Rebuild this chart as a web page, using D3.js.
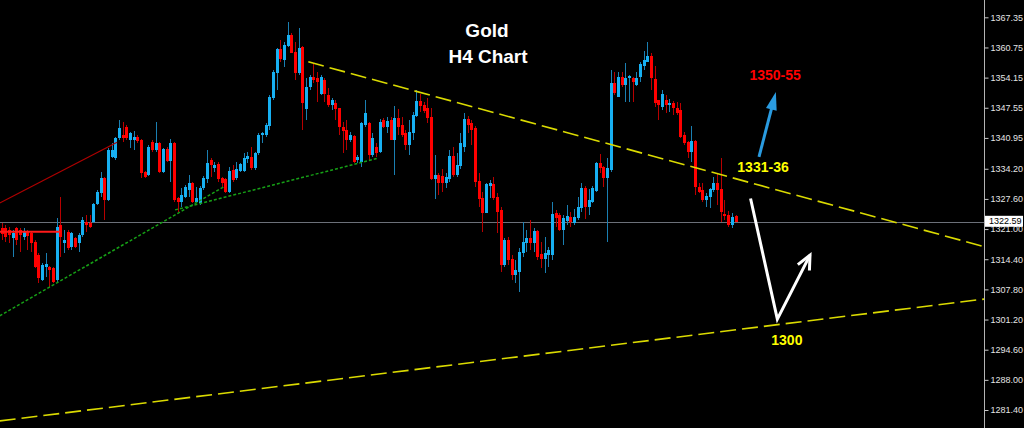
<!DOCTYPE html>
<html>
<head>
<meta charset="utf-8">
<script src="https://cdnjs.cloudflare.com/ajax/libs/d3/7.8.5/d3.min.js"></script>
<style>
  html, body { margin: 0; padding: 0; background: #000; overflow: hidden; }
  svg { display: block; }
</style>
</head>
<body>
<script>
// H4 candles, [open, high, low, close], oldest first
const bars = [
  [1321.2,1322.3,1318.6,1319.9],[1321.2,1321.9,1318.2,1319.3],[1320.8,1321.5,1317.9,1319.7],[1319.0,1320.8,1314.9,1320.1],
  [1321.2,1321.5,1317.5,1318.6],[1320.8,1321.2,1316.0,1319.7],[1319.3,1321.2,1318.6,1320.6],[1320.4,1320.8,1316.4,1319.5],
  [1320.1,1320.4,1316.0,1317.9],[1318.2,1318.6,1312.5,1312.7],[1315.3,1315.8,1309.2,1310.3],[1309.9,1313.6,1309.6,1313.1],
  [1312.7,1315.8,1310.5,1313.4],[1312.7,1312.9,1308.3,1312.1],[1312.5,1312.7,1309.2,1309.4],[1309.9,1323.4,1309.4,1321.5],
  [1321.9,1328.0,1314.9,1319.3],[1317.9,1320.8,1315.8,1318.6],[1320.4,1320.8,1316.4,1316.9],[1317.1,1320.4,1316.4,1320.1],
  [1319.0,1319.3,1316.9,1317.1],[1317.9,1320.1,1316.0,1319.7],[1319.7,1323.6,1319.3,1323.0],[1322.5,1324.1,1320.4,1321.9],
  [1322.3,1324.1,1321.2,1321.5],[1322.5,1326.7,1322.3,1326.5],[1326.5,1329.5,1326.3,1329.1],[1328.9,1333.5,1328.0,1332.2],
  [1332.2,1332.4,1323.0,1327.4],[1327.4,1338.7,1327.1,1338.3],[1336.8,1339.8,1336.5,1338.3],[1336.5,1341.1,1336.1,1340.9],
  [1340.9,1344.9,1340.5,1343.1],[1341.6,1344.4,1340.0,1340.9],[1343.3,1343.8,1340.5,1340.9],[1340.5,1342.2,1338.7,1342.0],
  [1340.5,1342.4,1338.3,1341.1],[1341.1,1341.6,1339.8,1340.3],[1340.5,1340.7,1332.2,1333.3],[1333.5,1333.7,1332.2,1332.4],
  [1332.8,1339.4,1332.6,1339.0],[1340.0,1340.5,1337.9,1338.3],[1338.3,1344.4,1337.9,1339.8],[1339.8,1340.0,1333.3,1333.5],
  [1333.5,1338.7,1333.3,1338.5],[1338.5,1339.0,1335.7,1335.9],[1335.9,1340.7,1331.3,1339.8],[1339.8,1340.0,1326.9,1327.4],
  [1327.8,1328.0,1324.7,1326.9],[1326.9,1330.0,1325.8,1328.5],[1328.0,1330.6,1327.8,1330.2],[1329.5,1332.8,1328.0,1331.1],
  [1331.1,1331.3,1326.7,1326.9],[1326.9,1330.2,1326.7,1327.8],[1326.7,1330.4,1326.3,1330.0],[1330.0,1332.6,1329.5,1332.2],
  [1331.9,1338.3,1331.1,1335.4],[1336.1,1336.5,1332.4,1335.0],[1334.4,1335.7,1333.5,1335.0],[1335.2,1335.7,1331.3,1331.9],
  [1332.2,1332.4,1330.2,1331.1],[1331.9,1332.2,1328.9,1329.1],[1329.1,1334.6,1328.9,1333.7],[1333.9,1335.0,1331.3,1331.7],
  [1332.2,1335.7,1331.7,1334.1],[1333.7,1335.4,1333.5,1335.2],[1333.7,1337.6,1333.5,1336.5],[1336.3,1337.9,1335.4,1337.0],
  [1336.8,1339.0,1333.9,1334.4],[1334.4,1337.9,1333.9,1337.6],[1337.6,1342.0,1337.2,1341.6],[1341.6,1342.2,1339.8,1342.0],
  [1341.6,1344.2,1341.1,1343.8],[1343.5,1350.3,1342.7,1349.9],[1349.7,1355.8,1349.2,1355.4],[1355.1,1360.6,1351.4,1360.4],
  [1360.4,1362.4,1357.5,1358.2],[1358.0,1361.9,1356.4,1361.3],[1361.0,1366.3,1360.8,1363.4],[1363.4,1363.9,1359.5,1359.5],
  [1359.7,1361.9,1353.6,1355.1],[1355.1,1365.0,1354.7,1360.6],[1360.8,1361.0,1342.7,1348.6],[1347.3,1354.0,1344.9,1352.1],
  [1352.1,1354.7,1351.4,1354.3],[1354.3,1357.3,1352.9,1353.6],[1354.0,1355.4,1348.8,1353.2],[1350.5,1354.7,1350.3,1354.3],
  [1353.6,1354.0,1348.8,1350.5],[1350.3,1351.9,1347.7,1348.1],[1348.1,1349.7,1347.0,1349.2],[1348.6,1349.2,1344.9,1347.3],
  [1347.5,1347.5,1341.6,1343.3],[1343.3,1344.4,1337.6,1342.4],[1342.7,1344.9,1338.3,1340.5],[1340.5,1342.2,1340.0,1341.6],
  [1341.4,1341.6,1335.4,1335.7],[1336.1,1337.2,1335.4,1336.8],[1335.7,1344.4,1334.6,1344.2],[1343.8,1349.2,1343.3,1346.4],
  [1344.2,1344.4,1336.1,1337.2],[1337.2,1342.0,1336.8,1340.9],[1338.9,1339.8,1336.8,1337.6],[1337.9,1345.1,1337.6,1344.4],
  [1344.9,1345.3,1343.1,1343.3],[1343.3,1345.5,1342.0,1344.7],[1344.9,1345.5,1340.5,1340.5],[1340.5,1347.9,1332.8,1345.3],
  [1345.3,1347.3,1341.6,1343.3],[1343.8,1345.5,1341.1,1341.6],[1342.0,1342.7,1338.3,1339.4],[1339.4,1344.9,1337.2,1342.2],
  [1342.0,1346.6,1340.5,1346.0],[1345.7,1351.4,1345.5,1349.0],[1349.0,1350.5,1346.6,1347.9],[1348.1,1348.8,1346.4,1346.8],
  [1347.5,1349.7,1344.2,1345.3],[1345.5,1347.5,1331.7,1331.9],[1331.9,1337.2,1327.6,1332.8],[1332.8,1333.3,1328.5,1331.1],
  [1332.6,1334.1,1329.1,1331.1],[1331.1,1333.3,1330.0,1332.4],[1331.9,1338.3,1331.3,1337.0],[1337.0,1339.0,1332.4,1332.8],
  [1332.8,1337.6,1332.4,1335.0],[1334.8,1342.0,1334.1,1339.8],[1339.0,1346.4,1337.9,1345.1],[1345.1,1345.7,1342.0,1343.8],
  [1344.2,1344.9,1339.4,1342.7],[1343.1,1343.5,1330.2,1331.3],[1331.5,1333.3,1325.8,1327.6],[1327.8,1329.1,1320.4,1324.5],
  [1324.5,1331.1,1324.5,1330.9],[1330.4,1331.7,1327.8,1331.1],[1330.9,1332.4,1327.4,1327.8],[1328.0,1328.9,1320.1,1324.7],
  [1325.2,1325.8,1311.6,1313.1],[1313.1,1319.0,1312.7,1318.6],[1318.6,1319.3,1313.1,1314.2],[1314.5,1315.3,1309.9,1311.0],
  [1311.0,1314.2,1309.2,1312.1],[1311.6,1316.9,1307.2,1316.0],[1315.8,1322.5,1314.9,1318.2],[1317.9,1320.8,1316.0,1319.0],
  [1319.0,1323.0,1316.4,1317.9],[1317.9,1321.2,1316.0,1320.6],[1320.6,1320.8,1314.2,1314.9],[1315.5,1318.2,1312.5,1314.5],
  [1314.5,1319.3,1311.4,1315.8],[1315.3,1317.1,1312.7,1316.4],[1315.3,1326.9,1314.2,1324.3],[1324.5,1325.2,1321.5,1323.4],
  [1324.1,1324.5,1320.6,1320.8],[1320.8,1324.1,1317.5,1323.4],[1322.8,1326.3,1321.9,1323.9],[1323.6,1324.7,1321.5,1322.5],
  [1322.3,1325.4,1321.9,1323.6],[1323.4,1328.0,1323.0,1325.8],[1325.6,1331.1,1324.7,1330.0],[1330.0,1330.4,1323.2,1325.8],
  [1325.8,1329.8,1324.1,1327.4],[1326.9,1330.4,1326.7,1330.0],[1329.3,1335.7,1329.1,1335.4],[1335.4,1337.4,1333.3,1334.4],
  [1334.6,1334.8,1330.2,1332.2],[1332.2,1336.5,1318.2,1334.4],[1333.9,1355.8,1333.5,1352.9],[1352.9,1355.4,1350.3,1350.8],
  [1349.9,1355.4,1349.9,1354.3],[1354.3,1355.4,1352.1,1352.5],[1352.5,1357.3,1348.8,1354.0],[1354.0,1354.7,1348.8,1354.5],
  [1354.0,1354.3,1348.8,1353.2],[1352.5,1355.4,1352.3,1354.0],[1354.3,1357.5,1353.2,1357.1],[1356.7,1360.0,1355.8,1358.0],
  [1357.5,1361.9,1357.5,1358.9],[1358.9,1359.5,1351.4,1354.0],[1353.8,1356.7,1347.7,1348.6],[1349.2,1349.2,1344.9,1348.1],
  [1347.7,1351.4,1347.0,1350.5],[1349.2,1350.3,1346.4,1348.1],[1348.1,1349.4,1346.6,1348.6],[1348.6,1349.0,1346.0,1347.5],
  [1347.5,1348.8,1346.0,1346.4],[1347.0,1348.6,1340.9,1341.1],[1341.6,1342.2,1339.4,1339.8],[1340.0,1340.3,1336.5,1337.9],
  [1337.9,1343.5,1335.7,1340.3],[1340.3,1340.5,1328.5,1330.2],[1330.2,1331.1,1328.9,1329.1],[1329.5,1331.1,1326.9,1327.4],
  [1327.4,1328.9,1325.8,1328.2],[1328.0,1330.0,1325.6,1329.8],[1329.5,1332.4,1329.1,1331.1],[1331.1,1333.0,1326.3,1329.5],
  [1329.8,1336.5,1322.5,1324.7],[1324.3,1327.4,1323.0,1323.9],[1324.1,1324.9,1321.5,1321.9],[1321.9,1324.5,1321.2,1323.6],
  [1323.9,1324.1,1322.5,1322.6]
];

// price scale labels on the right
const tickValues = [1367.35, 1360.75, 1354.15, 1347.55, 1340.95, 1334.20, 1327.60,
                    1321.00, 1314.40, 1307.80, 1301.20, 1294.60, 1288.00, 1281.40];
const lastPrice = 1322.59;

// trend lines as [bar index, price] end points
const yellowLines = [[[83.6, 1357.6], [268, 1317.1]], [[-0.5, 1279.0], [268, 1305.7]]];
const greenLines = [[[-0.5, 1302.0], [60.9, 1330.4]], [[47.3, 1325.2], [102.6, 1336.5]]];
const redLines = [[[-0.5, 1326.7], [31.5, 1340.0]]];
const redFlat = [[-0.5, 1320.4], [16, 1320.4]];

// hand drawn arrows and level notes
const upArrow = [[206.4, 1336.8], [211.0, 1351.0]];
const zigArrow = [[204.1, 1327.7], [211.4, 1301.3], [220.3, 1315.3]];
const levelText = ["1350-55", "1331-36", "1300"];
const levelAt = [[210.8, 1353.6], [207.5, 1333.5], [214, 1295.6]];
const levelColor = ["#ff0000", "#ffff00", "#ffff00"];

const width = 1024, height = 428;
const axisX = 984;

const svg = d3.select("body").append("svg").attr("width", width).attr("height", height)
  .style("background", "#000");

const x = d3.scaleLinear().domain([0, 268]).range([1.5, 1.5 + 268 * 3.67]);
const y = d3.scaleLinear().domain([1281.40, 1367.35]).range([410, 17.3]);

svg.append("defs").append("clipPath").attr("id", "plot")
  .append("rect").attr("x", 0).attr("y", 0).attr("width", axisX).attr("height", height);

const plot = svg.append("g").attr("clip-path", "url(#plot)");

//Current price line.
plot.append("line")
  .attr("x1", 0).attr("x2", axisX)
  .attr("y1", Math.round(y(lastPrice)) + 0.5).attr("y2", Math.round(y(lastPrice)) + 0.5)
  .attr("stroke", "#6c7079").attr("stroke-width", 1);

//Candles.
const candle = plot.append("g").attr("shape-rendering", "crispEdges")
  .selectAll("g").data(bars).enter().append("g");

candle.append("line")
  .attr("x1", (d, i) => Math.round(x(i)) + 0.5)
  .attr("x2", (d, i) => Math.round(x(i)) + 0.5)
  .attr("y1", d => y(d[1]))
  .attr("y2", d => y(d[2]))
  .attr("stroke", d => d[3] >= d[0] ? "#1a7fb2" : "#b80000");

candle.append("rect")
  .attr("x", (d, i) => Math.round(x(i)) - 1)
  .attr("width", 3)
  .attr("y", d => y(Math.max(d[0], d[3])))
  .attr("height", d => Math.max(1, Math.abs(y(d[0]) - y(d[3]))))
  .attr("fill", d => d[3] >= d[0] ? "#17b0f2" : "#ff0000");

//Trend lines.
const lineGen = d3.line().x(p => x(p[0])).y(p => y(p[1]));

plot.selectAll(".red").data(redLines).enter().append("path")
  .attr("d", lineGen).attr("fill", "none")
  .attr("stroke", "#b00000").attr("stroke-width", 1.2);

plot.append("path").attr("d", lineGen(redFlat)).attr("fill", "none")
  .attr("stroke", "#ff1a1a").attr("stroke-width", 2);

plot.selectAll(".green").data(greenLines).enter().append("path")
  .attr("d", lineGen).attr("fill", "none")
  .attr("stroke", "#16a016").attr("stroke-width", 1.5).attr("stroke-dasharray", "3,2");

plot.selectAll(".yellow").data(yellowLines).enter().append("path")
  .attr("d", lineGen).attr("fill", "none")
  .attr("stroke", "#dada00").attr("stroke-width", 1.6).attr("stroke-dasharray", "16,6");

//Arrows.
function head(a, b, len, half) {
  const dx = b[0] - a[0], dy = b[1] - a[1];
  const l = Math.hypot(dx, dy);
  const ux = dx / l, uy = dy / l;
  const bx = b[0] - ux * len, by = b[1] - uy * len;
  return [[bx - uy * half, by + ux * half], b, [bx + uy * half, by - ux * half]];
}

const upPx = upArrow.map(p => [x(p[0]), y(p[1])]);
const upHead = head(upPx[0], upPx[1], 18, 5.5);
plot.append("path")
  .attr("d", d3.line()([upPx[0], [upPx[1][0] - (upPx[1][0] - upPx[0][0]) * 0.2, upPx[1][1] - (upPx[1][1] - upPx[0][1]) * 0.2]]))
  .attr("stroke", "#2a9be0").attr("stroke-width", 3).attr("fill", "none");
plot.append("path").attr("d", d3.line()(upHead) + "Z").attr("fill", "#2a9be0");

const zigPx = zigArrow.map(p => [x(p[0]), y(p[1])]);
plot.append("path").attr("d", d3.line()(zigPx))
  .attr("stroke", "#ffffff").attr("stroke-width", 3).attr("fill", "none")
  .attr("stroke-linejoin", "miter");
plot.append("path").attr("d", d3.line()(head(zigPx[1], zigPx[2], 14, 6.5)))
  .attr("stroke", "#ffffff").attr("stroke-width", 3).attr("fill", "none");

//Level notes.
plot.selectAll(".level").data(levelText).enter().append("text")
  .attr("x", (d, i) => x(levelAt[i][0]))
  .attr("y", (d, i) => y(levelAt[i][1]))
  .attr("text-anchor", "middle")
  .attr("font-family", "Liberation Sans, Arial, sans-serif")
  .attr("font-weight", "bold").attr("font-size", 14)
  .attr("fill", (d, i) => levelColor[i])
  .text(d => d);

//Title.
svg.append("text").attr("x", 487).attr("y", 37).attr("text-anchor", "middle")
  .attr("font-family", "Liberation Sans, Arial, sans-serif").attr("font-weight", "bold")
  .attr("font-size", 19).attr("fill", "#ffffff").text("Gold");
svg.append("text").attr("x", 488).attr("y", 63).attr("text-anchor", "middle")
  .attr("font-family", "Liberation Sans, Arial, sans-serif").attr("font-weight", "bold")
  .attr("font-size", 19).attr("fill", "#ffffff").text("H4 Chart");

//Price axis.
svg.append("line").attr("x1", axisX + 0.5).attr("x2", axisX + 0.5)
  .attr("y1", 0).attr("y2", height).attr("stroke", "#b4b4b4");

const yAxis = d3.axisRight(y).tickValues(tickValues).tickFormat(d3.format(".2f"))
  .tickSize(4).tickSizeOuter(0).tickPadding(2);

const ax = svg.append("g").attr("transform", "translate(" + (axisX + 0.5) + ",0)").call(yAxis);
ax.select(".domain").remove();
ax.selectAll("line").attr("stroke", "#c8c8c8");
ax.selectAll("text").attr("fill", "#e4e4e4")
  .attr("font-family", "Liberation Sans, Arial, sans-serif").attr("font-size", 9);

//Current price box, drawn over the scale label beneath it.
const py = y(lastPrice);
svg.append("rect").attr("x", axisX + 1).attr("y", py - 6).attr("width", 38).attr("height", 11)
  .attr("fill", "#ffffff");
svg.append("text").attr("x", axisX + 5).attr("y", py - 0.5).attr("dy", "0.32em")
  .attr("font-family", "Liberation Sans, Arial, sans-serif").attr("font-size", 9)
  .attr("fill", "#000000").text(lastPrice.toFixed(2));
</script>
</body>
</html>
